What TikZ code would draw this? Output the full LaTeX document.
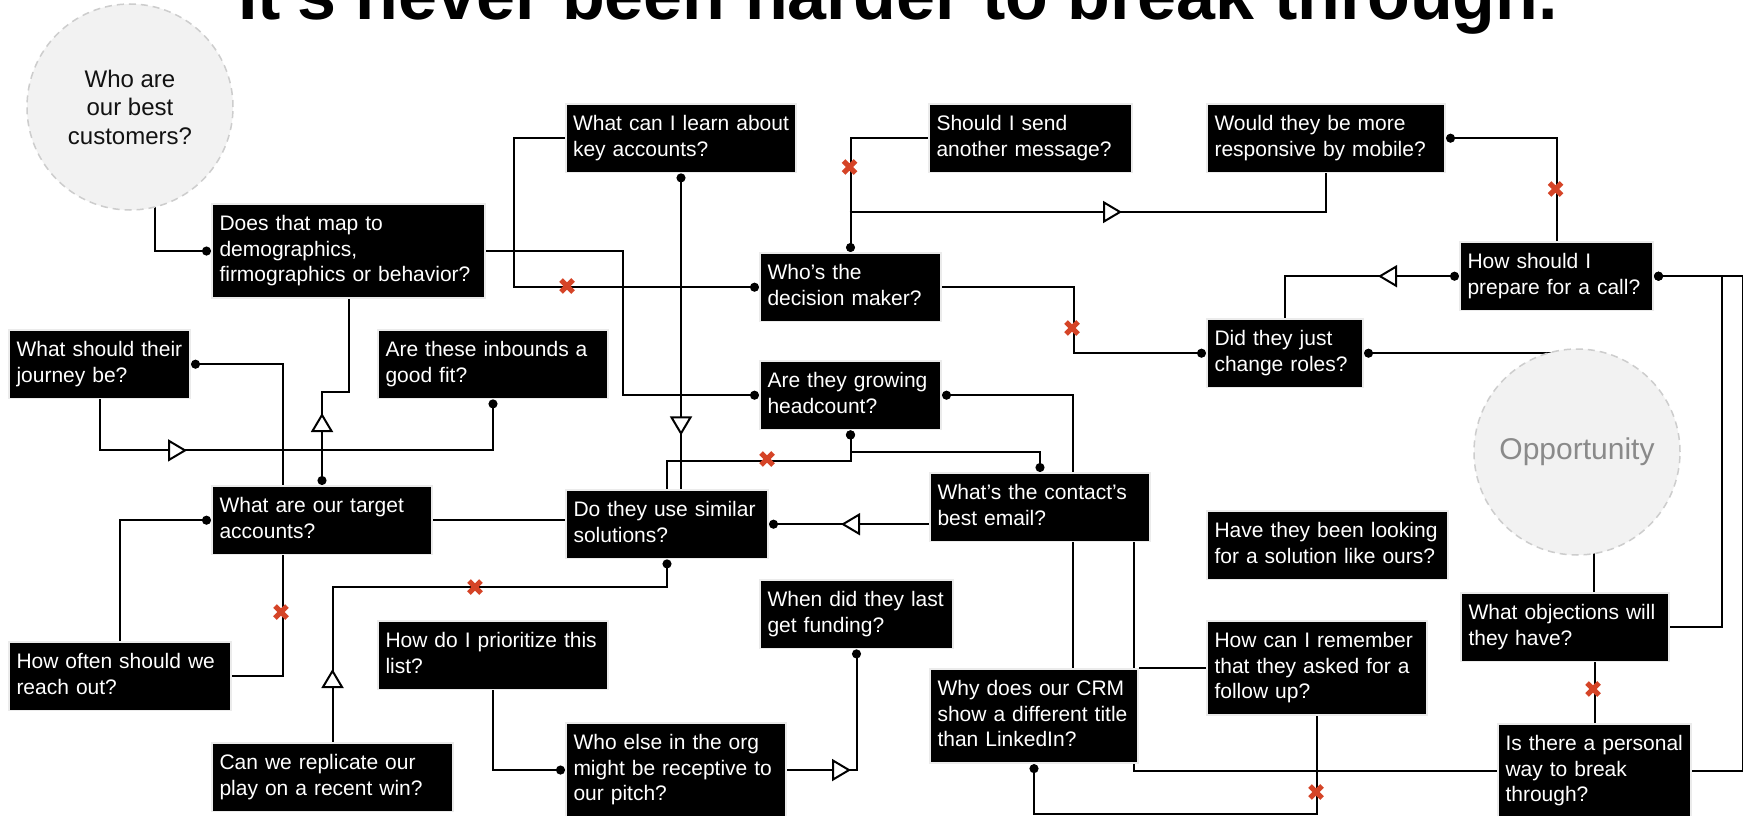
\documentclass[tikz,border=0pt]{standalone}
\usepackage{fontspec}
\setmainfont{Liberation Sans}
\usetikzlibrary{arrows.meta,decorations.markings,calc}
\pgfdeclarelayer{back}
\pgfdeclarelayer{bg}
\pgfsetlayers{back,bg,main}
\definecolor{xred}{RGB}{213,68,39}
\definecolor{bubblefill}{RGB}{242,242,242}
\definecolor{bubbleline}{RGB}{205,205,205}
\definecolor{opptext}{RGB}{138,138,138}
\newcommand\qfont{\fontsize{21}{25.7}\selectfont}
\newcommand\cfont{\fontsize{24}{28.5}\selectfont}
\newcommand\ofont{\fontsize{30}{34}\selectfont}
\tikzset{
  bdot/.tip={Circle[length=9pt]},
  qbox/.style={fill=black, draw=black!8, line width=1.5pt, text=white,
    anchor=north west, align=left, inner xsep=7.5pt, inner ysep=8.5pt,
    outer sep=1pt, font=\qfont,
    execute at begin node=\strut, execute at end node=\strut},
  bubble/.style={circle, minimum size=206pt, inner sep=0pt, fill=bubblefill,
    draw=bubbleline, line width=1.5pt, dash pattern=on 7pt off 5pt, align=center},
  conn/.style={draw=black, line width=2pt},
  tri at/.style={postaction={decorate,decoration={markings,
    mark=at position #1 with {\arrow{Triangle[length=19pt,width=22pt,fill=white]}}}}},
  xmark/.pic={\draw[line width=5pt, xred] (-6,-6) -- (6,6) (-6,6) -- (6,-6);}
}
\begin{document}
\begin{tikzpicture}[x=1pt,y=-1pt]
\useasboundingbox (0,0) rectangle (1743,816);
\begin{pgfonlayer}{back}
\fill[white] (0,0) rectangle (1743,816);
\end{pgfonlayer}
\clip (0,0) rectangle (1743,816);

% title
\node[font=\fontsize{70}{80}\selectfont\bfseries, anchor=base, inner sep=0pt] (title) at (898,20) {It’s never been harder to break through.};

% bubbles
\node[bubble, font=\cfont, text=black!93] (best) at (130,107) {Who are\\our best\\customers?};
\node[bubble, font=\ofont, text=opptext] (opp) at (1577,452) {Opportunity};

% boxes
\node[qbox, text width=258pt] (A) at (211,203) {Does that map to\\demographics,\\firmographics or behavior?};
\node[qbox, text width=220pt, inner xsep=5pt] (B) at (565,103) {\hspace{2pt}What can I learn about\\\hspace{2pt}key accounts?};
\node[qbox, text width=188pt] (C) at (928,103) {Should I send\\another message?};
\node[qbox, text width=223pt] (D) at (1206,103) {Would they be more\\responsive by mobile?};
\node[qbox, text width=178pt] (E) at (1459,241) {How should I\\prepare for a call?};
\node[qbox, text width=166pt] (F) at (759,252) {Who’s the\\decision maker?};
\node[qbox, text width=141pt] (G) at (1206,318) {Did they just\\change roles?};
\node[qbox, text width=166pt] (H) at (759,360) {Are they growing\\headcount?};
\node[qbox, text width=166pt] (I) at (8,329) {What should their\\journey be?};
\node[qbox, text width=215pt] (J) at (377,329) {Are these inbounds a\\good fit?};
\node[qbox, text width=205pt] (K) at (211,485) {What are our target\\accounts?};
\node[qbox, text width=187pt] (L) at (565,489) {Do they use similar\\solutions?};
\node[qbox, text width=205pt] (M) at (929,472) {What’s the contact’s\\best email?};
\node[qbox, text width=226pt] (N) at (1206,510) {Have they been looking\\for a solution like ours?};
\node[qbox, text width=193pt] (P) at (1460,592) {What objections will\\they have?};
\node[qbox, text width=205pt] (Q) at (1206,620) {How can I remember\\that they asked for a\\follow up?};
\node[qbox, text width=178pt] (R) at (1497,723) {Is there a personal\\way to break\\through?};
\node[qbox, text width=193pt] (S) at (929,668) {Why does our CRM\\show a different title\\than LinkedIn?};
\node[qbox, text width=178pt] (T) at (759,579) {When did they last\\get funding?};
\node[qbox, text width=205pt] (U) at (565,722) {Who else in the org\\might be receptive to\\our pitch?};
\node[qbox, text width=215pt] (V) at (377,620) {How do I prioritize this\\list?};
\node[qbox, text width=207pt] (W) at (8,641) {How often should we\\reach out?};
\node[qbox, text width=226pt] (X) at (211,742) {Can we replicate our\\play on a recent win?};

\coordinate (j1) at (849.5,212);

\begin{pgfonlayer}{bg}
\draw[conn, -bdot] ([xshift=25pt]best.center) |- (A.west);
\draw[conn, -bdot] (A.east) -- ++(137,0) |- (H.west);
\draw[conn, -bdot] (B.west) -- ++(-51,0) |- (F.west);
\draw[conn, bdot-, tri at=262pt] (B.south) -- (B.south |- L.north);
\draw[conn, -bdot] (C.west) -| (F.north);
\draw[conn, tri at=272.5pt] (j1) -| (D.south);
\draw[conn, bdot-] (D.east) -| (E.north);
\draw[conn, bdot-, tri at=81pt] (E.west) -| (G.north);
\draw[conn, -bdot] (P.east) -- ++(52,0) |- (E.east);
\draw[conn, -bdot] (R.east) -- ++(51,0) |- (E.east);
\draw[conn, -bdot] (F.east) -- ++(132,0) |- (G.west);
\draw[conn, bdot-] (G.east) -- (G.east -| opp.center);
\draw[conn] ([xshift=29pt]P.north) -- ([xshift=29pt]P.north |- opp.center);
\draw[conn] (R.north) -- (R.north |- P.south);
\draw[conn, -bdot] (Q.south) -- ++(0,98) -| (S.south);
\draw[conn] ([xshift=-17pt]M.south east) |- (R.west);
\draw[conn] (Q.west) -- (Q.west -| S.east);
\draw[conn, bdot-] (H.east) -| ([xshift=39pt]S.north);
\draw[conn, bdot-bdot] (H.south) -- ++(0,22) -| (M.north);
\draw[conn, bdot-] (H.south) -- ++(0,31) -| (L.north);
\draw[conn, -bdot, tri at=88pt] (M.west |- L.east) -- (L.east);
\draw[conn, bdot-, tri at=72pt] (K.north) -- ++(0,-93) -| (A.south);
\draw[conn, bdot-] (I.east) -- ++(92,0) |- (W.east);
\draw[conn, -bdot, tri at=138.5pt] (I.south) -- ++(0,51) -| (J.south);
\draw[conn] (K.east) -- (K.east -| L.west);
\draw[conn, -bdot] (W.north) |- (K.west);
\draw[conn, -bdot, tri at=73pt] (X.north) -- ++(0,-155) -| (L.south);
\draw[conn, -bdot] (V.south) |- (U.west);
\draw[conn, -bdot, tri at=64pt] (U.east) -| (T.south);
\end{pgfonlayer}

% red crosses
\foreach \x/\y in {567/286, 849.5/167, 1555.5/189, 1072/328, 767/459, 281/612, 475/587, 1593/689, 1316/792}
  \pic at (\x,\y) {xmark};
\end{tikzpicture}
\end{document}
